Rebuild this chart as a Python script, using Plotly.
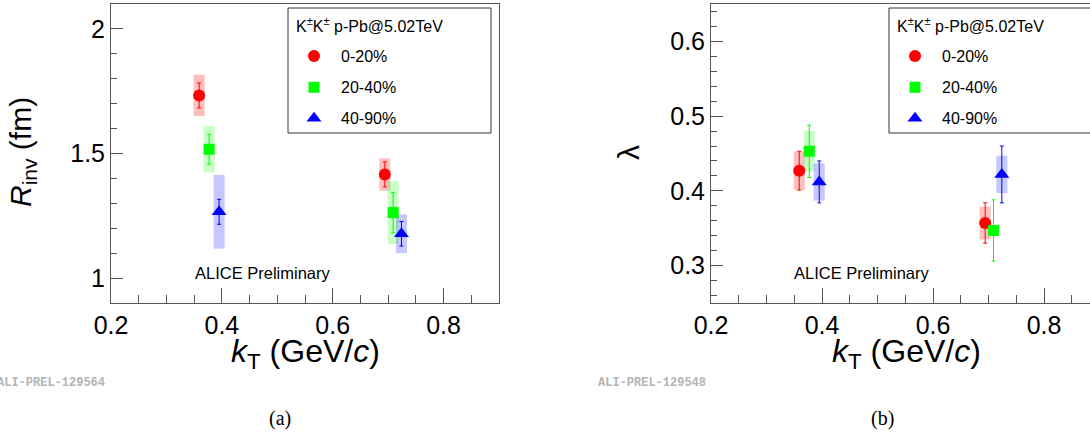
import plotly.graph_objects as go

W, H = 1090, 434

# ---------------- data ----------------
centralities = ["0-20%", "20-40%", "40-90%"]
colors = ["#ff0000", "#00ff00", "#0000ff"]
box_colors = ["rgba(255,0,0,0.25)", "rgba(0,255,0,0.22)", "rgba(0,0,255,0.22)"]
symbols = ["circle", "square", "triangle-up"]
msizes = [12, 11, 13]

kt_020 = [0.359, 0.694]
kt_2040 = [0.377, 0.709]
kt_4090 = [0.395, 0.724]

rinv_020 = [1.733, 1.416]
rinv_020_stat = [0.050, 0.050]
rinv_020_syst = [0.083, 0.065]
rinv_2040 = [1.517, 1.263]
rinv_2040_stat = [0.060, 0.081]
rinv_2040_syst = [0.093, 0.126]
rinv_4090 = [1.266, 1.178]
rinv_4090_stat = [0.050, 0.049]
rinv_4090_syst = [0.148, 0.078]

lam_020 = [0.427, 0.357]
lam_020_stat = [0.026, 0.027]
lam_020_syst = [0.026, 0.022]
lam_2040 = [0.453, 0.347]
lam_2040_stat = [0.035, 0.041]
lam_2040_syst = [0.027, 0.008]
lam_4090 = [0.412, 0.422]
lam_4090_stat = [0.028, 0.038]
lam_4090_syst = [0.025, 0.025]

xticks = [0.2, 0.4, 0.6, 0.8]
syst_halfwidth = 0.01

# ---------------- helpers ----------------
def px(x):
    return x / W

def py(y):
    return 1 - y / H

FONT = "Liberation Sans, Arial, Helvetica, sans-serif"
AXC = "#555555"

fig = go.Figure()

panels = [
    ("x", "y", [kt_020, kt_2040, kt_4090],
     [rinv_020, rinv_2040, rinv_4090],
     [rinv_020_stat, rinv_2040_stat, rinv_4090_stat],
     [rinv_020_syst, rinv_2040_syst, rinv_4090_syst]),
    ("x2", "y2", [kt_020, kt_2040, kt_4090],
     [lam_020, lam_2040, lam_4090],
     [lam_020_stat, lam_2040_stat, lam_4090_stat],
     [lam_020_syst, lam_2040_syst, lam_4090_syst]),
]

for xa, ya, xs, ys, stats, systs in panels:
    for i in range(3):
        for xv, yv, sv in zip(xs[i], ys[i], systs[i]):
            fig.add_shape(type="rect", xref=xa, yref=ya,
                          x0=xv - syst_halfwidth, x1=xv + syst_halfwidth,
                          y0=yv - sv, y1=yv + sv,
                          fillcolor=box_colors[i], line=dict(width=0),
                          layer="below")
        fig.add_trace(go.Scatter(
            x=xs[i], y=ys[i], mode="markers", xaxis=xa, yaxis=ya,
            name=centralities[i], showlegend=False,
            marker=dict(symbol=symbols[i], size=msizes[i], color=colors[i],
                        opacity=1, line=dict(width=0)),
            error_y=dict(type="data", array=stats[i], color=colors[i],
                         thickness=1, width=2),
        ))

# ---------------- manual legends ----------------
legend_left = [288, 889]
for lx in legend_left:
    fig.add_shape(type="rect", xref="paper", yref="paper",
                  x0=px(lx), x1=px(min(lx + 203, W + 5)), y0=py(133), y1=py(8),
                  line=dict(color="#333333", width=1), fillcolor="rgba(0,0,0,0)")
    fig.add_annotation(x=px(lx + 6), y=py(25), xref="paper", yref="paper",
                       xanchor="left", yanchor="middle", showarrow=False,
                       text="K<sup>±</sup>K<sup>±</sup> p-Pb@5.02TeV",
                       font=dict(family=FONT, size=16, color="black"))
    for i, yy in enumerate([56, 87.3, 118.3]):
        fig.add_annotation(x=px(lx + 51), y=py(yy), xref="paper", yref="paper",
                           xanchor="left", yanchor="middle", showarrow=False,
                           text=centralities[i],
                           font=dict(family=FONT, size=16, color="black"))
    fig.add_trace(go.Scatter(
        x=[lx + 26] * 3, y=[56, 87.3, 118.3], mode="markers",
        xaxis="x3", yaxis="y3", showlegend=False, hoverinfo="skip",
        marker=dict(symbol=symbols, size=msizes, color=colors, opacity=1,
                    line=dict(width=0)),
    ))

# ---------------- text annotations ----------------
ann = [
    (px(305), py(353), "<i>k</i><sub>T</sub> (GeV/<i>c</i>)", 32, "center", "middle", 0),
    (px(906), py(353), "<i>k</i><sub>T</sub> (GeV/<i>c</i>)", 32, "center", "middle", 0),
    (px(22), py(152), "<i>R</i><sub>inv</sub> (fm)", 30, "center", "middle", -90),
    (px(628), py(153), "λ", 30, "center", "middle", -90),
    (px(193), py(273), "ALICE Preliminary", 16.5, "left", "middle", 0),
    (px(792), py(273), "ALICE Preliminary", 16.5, "left", "middle", 0),
]
for x, y, t, s, xa_, ya_, ang in ann:
    fig.add_annotation(x=x, y=y, xref="paper", yref="paper", text=t,
                       showarrow=False, xanchor=xa_, yanchor=ya_, textangle=ang,
                       font=dict(family=FONT, size=s, color="black"))

fig.add_annotation(x=px(107), y=py(383), xref="paper", yref="paper",
                   text="<b>ALI-PREL-129564</b>", showarrow=False,
                   xanchor="right", yanchor="middle",
                   font=dict(family="Liberation Mono, Courier New, monospace", size=12, color="#b4b4b4"))
fig.add_annotation(x=px(596), y=py(383), xref="paper", yref="paper",
                   text="<b>ALI-PREL-129548</b>", showarrow=False,
                   xanchor="left", yanchor="middle",
                   font=dict(family="Liberation Mono, Courier New, monospace", size=12, color="#b4b4b4"))
fig.add_annotation(x=px(280), y=py(418), xref="paper", yref="paper",
                   text="(a)", showarrow=False, xanchor="center", yanchor="middle",
                   font=dict(family="Liberation Serif, Times New Roman, serif", size=20, color="black"))
fig.add_annotation(x=px(882), y=py(418), xref="paper", yref="paper",
                   text="(b)", showarrow=False, xanchor="center", yanchor="middle",
                   font=dict(family="Liberation Serif, Times New Roman, serif", size=20, color="black"))

# ---------------- axes ----------------
def xaxis_cfg(domain, rng, anchor):
    return dict(domain=domain, range=rng, tickvals=xticks,
                ticktext=[f"{v:.1f}" for v in xticks],
                ticks="inside", ticklen=15, tickwidth=1, tickcolor=AXC,
                showline=True, linecolor=AXC, linewidth=1, mirror=True,
                showgrid=False, zeroline=False, anchor=anchor, automargin=False,
                minor=dict(dtick=0.05, tick0=0.2, ticks="inside", ticklen=8,
                           tickcolor=AXC, tickwidth=1, showgrid=False),
                tickfont=dict(family=FONT, size=25, color="black"),
                fixedrange=True)

def yaxis_cfg(domain, rng, tick0, dtick, mdtick, anchor, mirror):
    return dict(domain=domain, range=rng, tick0=tick0, dtick=dtick,
                ticks="inside", ticklen=12, tickwidth=1, tickcolor=AXC,
                showline=True, linecolor=AXC, linewidth=1, mirror=mirror,
                showgrid=False, zeroline=False, anchor=anchor, automargin=False,
                minor=dict(dtick=mdtick, ticks="inside", ticklen=6,
                           tickcolor=AXC, tickwidth=1, showgrid=False),
                tickfont=dict(family=FONT, size=25, color="black"),
                fixedrange=True)

ydom = [py(303), py(4)]
fig.update_layout(
    width=W, height=H,
    margin=dict(l=0, r=0, t=0, b=0, autoexpand=False),
    paper_bgcolor="white", plot_bgcolor="rgba(0,0,0,0)",
    showlegend=False,
    xaxis=xaxis_cfg([px(111), px(499)], [0.2, 0.9], "y"),
    yaxis=yaxis_cfg(ydom, [0.9, 2.1], 1.0, 0.5, 0.1, "x", True),
    xaxis2=xaxis_cfg([px(711), 1.0], [0.2, 0.2 + (W - 711) / 555], "y2"),
    yaxis2=yaxis_cfg(ydom, [0.25, 0.65], 0.3, 0.1, 0.02, "x2", False),
    xaxis3=dict(domain=[0, 1], range=[0, W], visible=False, anchor="y3", fixedrange=True),
    yaxis3=dict(domain=[0, 1], range=[H, 0], visible=False, anchor="x3", fixedrange=True),
)

fig.write_html("out.html")
